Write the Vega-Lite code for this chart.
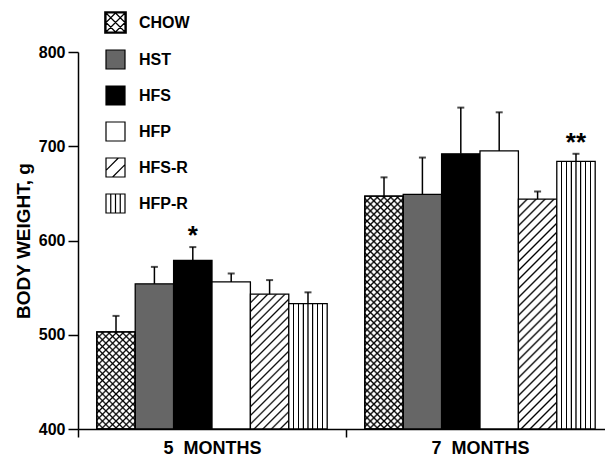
{
"$schema": "https://vega.github.io/schema/vega-lite/v6.json",
"width": 527, "height": 377,
"autosize": {"type": "none"},
"padding": {"left": 78, "top": 52, "right": 0, "bottom": 27},
"background": "white",
"data": {"values": [
{"period":"5 MONTHS","diet":"CHOW","weight":503,"upper":520},
{"period":"5 MONTHS","diet":"HST","weight":554,"upper":572},
{"period":"5 MONTHS","diet":"HFS","weight":579,"upper":593,"sig":"*"},
{"period":"5 MONTHS","diet":"HFP","weight":556,"upper":565},
{"period":"5 MONTHS","diet":"HFS-R","weight":543,"upper":558},
{"period":"5 MONTHS","diet":"HFP-R","weight":533,"upper":545},
{"period":"7 MONTHS","diet":"CHOW","weight":647,"upper":667},
{"period":"7 MONTHS","diet":"HST","weight":649,"upper":688},
{"period":"7 MONTHS","diet":"HFS","weight":692,"upper":741},
{"period":"7 MONTHS","diet":"HFP","weight":695,"upper":736},
{"period":"7 MONTHS","diet":"HFS-R","weight":644,"upper":652},
{"period":"7 MONTHS","diet":"HFP-R","weight":684,"upper":692,"sig":"**"}
]},
"encoding": {
 "x": {"field": "period", "type": "nominal",
   "scale": {"domain": ["5 MONTHS","7 MONTHS"], "range": [0, 536], "paddingInner": 0, "paddingOuter": 0},
   "axis": {"title": null, "labelAngle": 0, "tickBand": "extent", "tickSize": 8, "labelPadding": 2, "labelFontSize": 18,
            "labelExpr": "replace(datum.label, ' ', '\u00a0 ')"}},
 "xOffset": {"field": "diet", "type": "nominal",
   "scale": {"domain": ["CHOW","HST","HFS","HFP","HFS-R","HFP-R"], "paddingInner": 0, "paddingOuter": 0.49}},
 "y": {"field": "weight", "type": "quantitative",
   "scale": {"domain": [400, 800], "zero": false, "nice": false},
   "axis": {"title": "BODY WEIGHT, g", "values": [400,500,600,700,800], "tickSize": 10, "labelPadding": 3,
            "labelFontSize": 16, "titleFontSize": 19, "titlePadding": 5}}
},
"layer": [
 {"mark": {"type": "bar", "stroke": "#000", "strokeWidth": 1.3},
  "encoding": {
   "y2": {"datum": 400},
   "fill": {"condition": [
     {"test": "datum.diet==='HST'", "value": "#666666"},
     {"test": "datum.diet==='HFS'", "value": "#000"},
     {"test": "datum.diet==='HFP'", "value": "#fff"},
     {"test": "datum.diet==='HFP-R'", "value": {"gradient": "linear", "x1": 0, "y1": 0, "x2": 1, "y2": 0, "stops": [
       {"offset":0.104,"color":"#fff"},{"offset":0.116,"color":"#000"},{"offset":0.134,"color":"#000"},{"offset":0.146,"color":"#fff"},
       {"offset":0.229,"color":"#fff"},{"offset":0.241,"color":"#000"},{"offset":0.259,"color":"#000"},{"offset":0.271,"color":"#fff"},
       {"offset":0.354,"color":"#fff"},{"offset":0.366,"color":"#000"},{"offset":0.384,"color":"#000"},{"offset":0.396,"color":"#fff"},
       {"offset":0.479,"color":"#fff"},{"offset":0.491,"color":"#000"},{"offset":0.509,"color":"#000"},{"offset":0.521,"color":"#fff"},
       {"offset":0.604,"color":"#fff"},{"offset":0.616,"color":"#000"},{"offset":0.634,"color":"#000"},{"offset":0.646,"color":"#fff"},
       {"offset":0.729,"color":"#fff"},{"offset":0.741,"color":"#000"},{"offset":0.759,"color":"#000"},{"offset":0.771,"color":"#fff"},
       {"offset":0.854,"color":"#fff"},{"offset":0.866,"color":"#000"},{"offset":0.884,"color":"#000"},{"offset":0.896,"color":"#fff"}]}},
     {"test": "datum.diet==='HFS-R' && datum.period==='5 MONTHS'", "value": {"gradient": "linear", "x1": 0, "y1": 0, "x2": 0.3385, "y2": 1.1884, "stops": [
       {"offset":0.04,"color":"#fff"},{"offset":0.05,"color":"#000"},{"offset":0.06,"color":"#fff"},
       {"offset":0.09,"color":"#fff"},{"offset":0.1,"color":"#000"},{"offset":0.11,"color":"#fff"},
       {"offset":0.14,"color":"#fff"},{"offset":0.15,"color":"#000"},{"offset":0.16,"color":"#fff"},
       {"offset":0.19,"color":"#fff"},{"offset":0.2,"color":"#000"},{"offset":0.21,"color":"#fff"},
       {"offset":0.24,"color":"#fff"},{"offset":0.25,"color":"#000"},{"offset":0.26,"color":"#fff"},
       {"offset":0.29,"color":"#fff"},{"offset":0.3,"color":"#000"},{"offset":0.31,"color":"#fff"},
       {"offset":0.34,"color":"#fff"},{"offset":0.35,"color":"#000"},{"offset":0.36,"color":"#fff"},
       {"offset":0.39,"color":"#fff"},{"offset":0.4,"color":"#000"},{"offset":0.41,"color":"#fff"},
       {"offset":0.44,"color":"#fff"},{"offset":0.45,"color":"#000"},{"offset":0.46,"color":"#fff"},
       {"offset":0.49,"color":"#fff"},{"offset":0.5,"color":"#000"},{"offset":0.51,"color":"#fff"},
       {"offset":0.54,"color":"#fff"},{"offset":0.55,"color":"#000"},{"offset":0.56,"color":"#fff"},
       {"offset":0.59,"color":"#fff"},{"offset":0.6,"color":"#000"},{"offset":0.61,"color":"#fff"},
       {"offset":0.64,"color":"#fff"},{"offset":0.65,"color":"#000"},{"offset":0.66,"color":"#fff"},
       {"offset":0.69,"color":"#fff"},{"offset":0.7,"color":"#000"},{"offset":0.71,"color":"#fff"},
       {"offset":0.74,"color":"#fff"},{"offset":0.75,"color":"#000"},{"offset":0.76,"color":"#fff"},
       {"offset":0.79,"color":"#fff"},{"offset":0.8,"color":"#000"},{"offset":0.81,"color":"#fff"},
       {"offset":0.84,"color":"#fff"},{"offset":0.85,"color":"#000"},{"offset":0.86,"color":"#fff"},
       {"offset":0.89,"color":"#fff"},{"offset":0.9,"color":"#000"},{"offset":0.91,"color":"#fff"},
       {"offset":0.94,"color":"#fff"},{"offset":0.95,"color":"#000"},{"offset":0.96,"color":"#fff"}]}},
     {"test": "datum.diet==='HFS-R'", "value": {"gradient": "linear", "x1": 0, "y1": 0, "x2": 0.1896, "y2": 1.1353, "stops": [
       {"offset":0.0263,"color":"#fff"},{"offset":0.0333,"color":"#000"},{"offset":0.0403,"color":"#fff"},
       {"offset":0.0597,"color":"#fff"},{"offset":0.0667,"color":"#000"},{"offset":0.0737,"color":"#fff"},
       {"offset":0.093,"color":"#fff"},{"offset":0.1,"color":"#000"},{"offset":0.107,"color":"#fff"},
       {"offset":0.1263,"color":"#fff"},{"offset":0.1333,"color":"#000"},{"offset":0.1403,"color":"#fff"},
       {"offset":0.1597,"color":"#fff"},{"offset":0.1667,"color":"#000"},{"offset":0.1737,"color":"#fff"},
       {"offset":0.193,"color":"#fff"},{"offset":0.2,"color":"#000"},{"offset":0.207,"color":"#fff"},
       {"offset":0.2263,"color":"#fff"},{"offset":0.2333,"color":"#000"},{"offset":0.2403,"color":"#fff"},
       {"offset":0.2597,"color":"#fff"},{"offset":0.2667,"color":"#000"},{"offset":0.2737,"color":"#fff"},
       {"offset":0.293,"color":"#fff"},{"offset":0.3,"color":"#000"},{"offset":0.307,"color":"#fff"},
       {"offset":0.3263,"color":"#fff"},{"offset":0.3333,"color":"#000"},{"offset":0.3403,"color":"#fff"},
       {"offset":0.3597,"color":"#fff"},{"offset":0.3667,"color":"#000"},{"offset":0.3737,"color":"#fff"},
       {"offset":0.393,"color":"#fff"},{"offset":0.4,"color":"#000"},{"offset":0.407,"color":"#fff"},
       {"offset":0.4263,"color":"#fff"},{"offset":0.4333,"color":"#000"},{"offset":0.4403,"color":"#fff"},
       {"offset":0.4597,"color":"#fff"},{"offset":0.4667,"color":"#000"},{"offset":0.4737,"color":"#fff"},
       {"offset":0.493,"color":"#fff"},{"offset":0.5,"color":"#000"},{"offset":0.507,"color":"#fff"},
       {"offset":0.5263,"color":"#fff"},{"offset":0.5333,"color":"#000"},{"offset":0.5403,"color":"#fff"},
       {"offset":0.5597,"color":"#fff"},{"offset":0.5667,"color":"#000"},{"offset":0.5737,"color":"#fff"},
       {"offset":0.593,"color":"#fff"},{"offset":0.6,"color":"#000"},{"offset":0.607,"color":"#fff"},
       {"offset":0.6263,"color":"#fff"},{"offset":0.6333,"color":"#000"},{"offset":0.6403,"color":"#fff"},
       {"offset":0.6597,"color":"#fff"},{"offset":0.6667,"color":"#000"},{"offset":0.6737,"color":"#fff"},
       {"offset":0.693,"color":"#fff"},{"offset":0.7,"color":"#000"},{"offset":0.707,"color":"#fff"},
       {"offset":0.7263,"color":"#fff"},{"offset":0.7333,"color":"#000"},{"offset":0.7403,"color":"#fff"},
       {"offset":0.7597,"color":"#fff"},{"offset":0.7667,"color":"#000"},{"offset":0.7737,"color":"#fff"},
       {"offset":0.793,"color":"#fff"},{"offset":0.8,"color":"#000"},{"offset":0.807,"color":"#fff"},
       {"offset":0.8263,"color":"#fff"},{"offset":0.8333,"color":"#000"},{"offset":0.8403,"color":"#fff"},
       {"offset":0.8597,"color":"#fff"},{"offset":0.8667,"color":"#000"},{"offset":0.8737,"color":"#fff"},
       {"offset":0.893,"color":"#fff"},{"offset":0.9,"color":"#000"},{"offset":0.907,"color":"#fff"},
       {"offset":0.9263,"color":"#fff"},{"offset":0.9333,"color":"#000"},{"offset":0.9403,"color":"#fff"},
       {"offset":0.9597,"color":"#fff"},{"offset":0.9667,"color":"#000"},{"offset":0.9737,"color":"#fff"}]}},
     {"test": "datum.period==='5 MONTHS'", "value": {"gradient": "linear", "x1": 0, "y1": 0, "x2": 0.4772, "y2": 1.2068, "stops": [
       {"offset":0.037,"color":"#fff"},{"offset":0.05,"color":"#000"},{"offset":0.063,"color":"#fff"},
       {"offset":0.087,"color":"#fff"},{"offset":0.1,"color":"#000"},{"offset":0.113,"color":"#fff"},
       {"offset":0.137,"color":"#fff"},{"offset":0.15,"color":"#000"},{"offset":0.163,"color":"#fff"},
       {"offset":0.187,"color":"#fff"},{"offset":0.2,"color":"#000"},{"offset":0.213,"color":"#fff"},
       {"offset":0.237,"color":"#fff"},{"offset":0.25,"color":"#000"},{"offset":0.263,"color":"#fff"},
       {"offset":0.287,"color":"#fff"},{"offset":0.3,"color":"#000"},{"offset":0.313,"color":"#fff"},
       {"offset":0.337,"color":"#fff"},{"offset":0.35,"color":"#000"},{"offset":0.363,"color":"#fff"},
       {"offset":0.387,"color":"#fff"},{"offset":0.4,"color":"#000"},{"offset":0.413,"color":"#fff"},
       {"offset":0.437,"color":"#fff"},{"offset":0.45,"color":"#000"},{"offset":0.463,"color":"#fff"},
       {"offset":0.487,"color":"#fff"},{"offset":0.5,"color":"#000"},{"offset":0.513,"color":"#fff"},
       {"offset":0.537,"color":"#fff"},{"offset":0.55,"color":"#000"},{"offset":0.563,"color":"#fff"},
       {"offset":0.587,"color":"#fff"},{"offset":0.6,"color":"#000"},{"offset":0.613,"color":"#fff"},
       {"offset":0.637,"color":"#fff"},{"offset":0.65,"color":"#000"},{"offset":0.663,"color":"#fff"},
       {"offset":0.687,"color":"#fff"},{"offset":0.7,"color":"#000"},{"offset":0.713,"color":"#fff"},
       {"offset":0.737,"color":"#fff"},{"offset":0.75,"color":"#000"},{"offset":0.763,"color":"#fff"},
       {"offset":0.787,"color":"#fff"},{"offset":0.8,"color":"#000"},{"offset":0.813,"color":"#fff"},
       {"offset":0.837,"color":"#fff"},{"offset":0.85,"color":"#000"},{"offset":0.863,"color":"#fff"},
       {"offset":0.887,"color":"#fff"},{"offset":0.9,"color":"#000"},{"offset":0.913,"color":"#fff"},
       {"offset":0.937,"color":"#fff"},{"offset":0.95,"color":"#000"},{"offset":0.963,"color":"#fff"}]}}
    ],
    "value": {"gradient": "linear", "x1": 0, "y1": 0, "x2": 0.1871, "y2": 1.1341, "stops": [
       {"offset":0.018,"color":"#fff"},{"offset":0.025,"color":"#000"},{"offset":0.032,"color":"#fff"},
       {"offset":0.043,"color":"#fff"},{"offset":0.05,"color":"#000"},{"offset":0.057,"color":"#fff"},
       {"offset":0.068,"color":"#fff"},{"offset":0.075,"color":"#000"},{"offset":0.082,"color":"#fff"},
       {"offset":0.093,"color":"#fff"},{"offset":0.1,"color":"#000"},{"offset":0.107,"color":"#fff"},
       {"offset":0.118,"color":"#fff"},{"offset":0.125,"color":"#000"},{"offset":0.132,"color":"#fff"},
       {"offset":0.143,"color":"#fff"},{"offset":0.15,"color":"#000"},{"offset":0.157,"color":"#fff"},
       {"offset":0.168,"color":"#fff"},{"offset":0.175,"color":"#000"},{"offset":0.182,"color":"#fff"},
       {"offset":0.193,"color":"#fff"},{"offset":0.2,"color":"#000"},{"offset":0.207,"color":"#fff"},
       {"offset":0.218,"color":"#fff"},{"offset":0.225,"color":"#000"},{"offset":0.232,"color":"#fff"},
       {"offset":0.243,"color":"#fff"},{"offset":0.25,"color":"#000"},{"offset":0.257,"color":"#fff"},
       {"offset":0.268,"color":"#fff"},{"offset":0.275,"color":"#000"},{"offset":0.282,"color":"#fff"},
       {"offset":0.293,"color":"#fff"},{"offset":0.3,"color":"#000"},{"offset":0.307,"color":"#fff"},
       {"offset":0.318,"color":"#fff"},{"offset":0.325,"color":"#000"},{"offset":0.332,"color":"#fff"},
       {"offset":0.343,"color":"#fff"},{"offset":0.35,"color":"#000"},{"offset":0.357,"color":"#fff"},
       {"offset":0.368,"color":"#fff"},{"offset":0.375,"color":"#000"},{"offset":0.382,"color":"#fff"},
       {"offset":0.393,"color":"#fff"},{"offset":0.4,"color":"#000"},{"offset":0.407,"color":"#fff"},
       {"offset":0.418,"color":"#fff"},{"offset":0.425,"color":"#000"},{"offset":0.432,"color":"#fff"},
       {"offset":0.443,"color":"#fff"},{"offset":0.45,"color":"#000"},{"offset":0.457,"color":"#fff"},
       {"offset":0.468,"color":"#fff"},{"offset":0.475,"color":"#000"},{"offset":0.482,"color":"#fff"},
       {"offset":0.493,"color":"#fff"},{"offset":0.5,"color":"#000"},{"offset":0.507,"color":"#fff"},
       {"offset":0.518,"color":"#fff"},{"offset":0.525,"color":"#000"},{"offset":0.532,"color":"#fff"},
       {"offset":0.543,"color":"#fff"},{"offset":0.55,"color":"#000"},{"offset":0.557,"color":"#fff"},
       {"offset":0.568,"color":"#fff"},{"offset":0.575,"color":"#000"},{"offset":0.582,"color":"#fff"},
       {"offset":0.593,"color":"#fff"},{"offset":0.6,"color":"#000"},{"offset":0.607,"color":"#fff"},
       {"offset":0.618,"color":"#fff"},{"offset":0.625,"color":"#000"},{"offset":0.632,"color":"#fff"},
       {"offset":0.643,"color":"#fff"},{"offset":0.65,"color":"#000"},{"offset":0.657,"color":"#fff"},
       {"offset":0.668,"color":"#fff"},{"offset":0.675,"color":"#000"},{"offset":0.682,"color":"#fff"},
       {"offset":0.693,"color":"#fff"},{"offset":0.7,"color":"#000"},{"offset":0.707,"color":"#fff"},
       {"offset":0.718,"color":"#fff"},{"offset":0.725,"color":"#000"},{"offset":0.732,"color":"#fff"},
       {"offset":0.743,"color":"#fff"},{"offset":0.75,"color":"#000"},{"offset":0.757,"color":"#fff"},
       {"offset":0.768,"color":"#fff"},{"offset":0.775,"color":"#000"},{"offset":0.782,"color":"#fff"},
       {"offset":0.793,"color":"#fff"},{"offset":0.8,"color":"#000"},{"offset":0.807,"color":"#fff"},
       {"offset":0.818,"color":"#fff"},{"offset":0.825,"color":"#000"},{"offset":0.832,"color":"#fff"},
       {"offset":0.843,"color":"#fff"},{"offset":0.85,"color":"#000"},{"offset":0.857,"color":"#fff"},
       {"offset":0.868,"color":"#fff"},{"offset":0.875,"color":"#000"},{"offset":0.882,"color":"#fff"},
       {"offset":0.893,"color":"#fff"},{"offset":0.9,"color":"#000"},{"offset":0.907,"color":"#fff"},
       {"offset":0.918,"color":"#fff"},{"offset":0.925,"color":"#000"},{"offset":0.932,"color":"#fff"},
       {"offset":0.943,"color":"#fff"},{"offset":0.95,"color":"#000"},{"offset":0.957,"color":"#fff"},
       {"offset":0.968,"color":"#fff"},{"offset":0.975,"color":"#000"},{"offset":0.982,"color":"#fff"}]}
   }
  }
 },
 {"transform": [{"filter": "datum.diet==='CHOW'"}],
  "mark": {"type": "bar", "stroke": "#000", "strokeWidth": 1.3},
  "encoding": {
   "y2": {"datum": 400},
   "fill": {"condition": {"test": "datum.period==='5 MONTHS'", "value": {"gradient": "linear", "x1": 0, "y1": 1, "x2": 0.4772, "y2": -0.2068, "stops": [
       {"offset":0.037,"color":"#0000"},{"offset":0.05,"color":"#000"},{"offset":0.063,"color":"#0000"},
       {"offset":0.087,"color":"#0000"},{"offset":0.1,"color":"#000"},{"offset":0.113,"color":"#0000"},
       {"offset":0.137,"color":"#0000"},{"offset":0.15,"color":"#000"},{"offset":0.163,"color":"#0000"},
       {"offset":0.187,"color":"#0000"},{"offset":0.2,"color":"#000"},{"offset":0.213,"color":"#0000"},
       {"offset":0.237,"color":"#0000"},{"offset":0.25,"color":"#000"},{"offset":0.263,"color":"#0000"},
       {"offset":0.287,"color":"#0000"},{"offset":0.3,"color":"#000"},{"offset":0.313,"color":"#0000"},
       {"offset":0.337,"color":"#0000"},{"offset":0.35,"color":"#000"},{"offset":0.363,"color":"#0000"},
       {"offset":0.387,"color":"#0000"},{"offset":0.4,"color":"#000"},{"offset":0.413,"color":"#0000"},
       {"offset":0.437,"color":"#0000"},{"offset":0.45,"color":"#000"},{"offset":0.463,"color":"#0000"},
       {"offset":0.487,"color":"#0000"},{"offset":0.5,"color":"#000"},{"offset":0.513,"color":"#0000"},
       {"offset":0.537,"color":"#0000"},{"offset":0.55,"color":"#000"},{"offset":0.563,"color":"#0000"},
       {"offset":0.587,"color":"#0000"},{"offset":0.6,"color":"#000"},{"offset":0.613,"color":"#0000"},
       {"offset":0.637,"color":"#0000"},{"offset":0.65,"color":"#000"},{"offset":0.663,"color":"#0000"},
       {"offset":0.687,"color":"#0000"},{"offset":0.7,"color":"#000"},{"offset":0.713,"color":"#0000"},
       {"offset":0.737,"color":"#0000"},{"offset":0.75,"color":"#000"},{"offset":0.763,"color":"#0000"},
       {"offset":0.787,"color":"#0000"},{"offset":0.8,"color":"#000"},{"offset":0.813,"color":"#0000"},
       {"offset":0.837,"color":"#0000"},{"offset":0.85,"color":"#000"},{"offset":0.863,"color":"#0000"},
       {"offset":0.887,"color":"#0000"},{"offset":0.9,"color":"#000"},{"offset":0.913,"color":"#0000"},
       {"offset":0.937,"color":"#0000"},{"offset":0.95,"color":"#000"},{"offset":0.963,"color":"#0000"}]}},
    "value": {"gradient": "linear", "x1": 0, "y1": 1, "x2": 0.1871, "y2": -0.1341, "stops": [
       {"offset":0.018,"color":"#0000"},{"offset":0.025,"color":"#000"},{"offset":0.032,"color":"#0000"},
       {"offset":0.043,"color":"#0000"},{"offset":0.05,"color":"#000"},{"offset":0.057,"color":"#0000"},
       {"offset":0.068,"color":"#0000"},{"offset":0.075,"color":"#000"},{"offset":0.082,"color":"#0000"},
       {"offset":0.093,"color":"#0000"},{"offset":0.1,"color":"#000"},{"offset":0.107,"color":"#0000"},
       {"offset":0.118,"color":"#0000"},{"offset":0.125,"color":"#000"},{"offset":0.132,"color":"#0000"},
       {"offset":0.143,"color":"#0000"},{"offset":0.15,"color":"#000"},{"offset":0.157,"color":"#0000"},
       {"offset":0.168,"color":"#0000"},{"offset":0.175,"color":"#000"},{"offset":0.182,"color":"#0000"},
       {"offset":0.193,"color":"#0000"},{"offset":0.2,"color":"#000"},{"offset":0.207,"color":"#0000"},
       {"offset":0.218,"color":"#0000"},{"offset":0.225,"color":"#000"},{"offset":0.232,"color":"#0000"},
       {"offset":0.243,"color":"#0000"},{"offset":0.25,"color":"#000"},{"offset":0.257,"color":"#0000"},
       {"offset":0.268,"color":"#0000"},{"offset":0.275,"color":"#000"},{"offset":0.282,"color":"#0000"},
       {"offset":0.293,"color":"#0000"},{"offset":0.3,"color":"#000"},{"offset":0.307,"color":"#0000"},
       {"offset":0.318,"color":"#0000"},{"offset":0.325,"color":"#000"},{"offset":0.332,"color":"#0000"},
       {"offset":0.343,"color":"#0000"},{"offset":0.35,"color":"#000"},{"offset":0.357,"color":"#0000"},
       {"offset":0.368,"color":"#0000"},{"offset":0.375,"color":"#000"},{"offset":0.382,"color":"#0000"},
       {"offset":0.393,"color":"#0000"},{"offset":0.4,"color":"#000"},{"offset":0.407,"color":"#0000"},
       {"offset":0.418,"color":"#0000"},{"offset":0.425,"color":"#000"},{"offset":0.432,"color":"#0000"},
       {"offset":0.443,"color":"#0000"},{"offset":0.45,"color":"#000"},{"offset":0.457,"color":"#0000"},
       {"offset":0.468,"color":"#0000"},{"offset":0.475,"color":"#000"},{"offset":0.482,"color":"#0000"},
       {"offset":0.493,"color":"#0000"},{"offset":0.5,"color":"#000"},{"offset":0.507,"color":"#0000"},
       {"offset":0.518,"color":"#0000"},{"offset":0.525,"color":"#000"},{"offset":0.532,"color":"#0000"},
       {"offset":0.543,"color":"#0000"},{"offset":0.55,"color":"#000"},{"offset":0.557,"color":"#0000"},
       {"offset":0.568,"color":"#0000"},{"offset":0.575,"color":"#000"},{"offset":0.582,"color":"#0000"},
       {"offset":0.593,"color":"#0000"},{"offset":0.6,"color":"#000"},{"offset":0.607,"color":"#0000"},
       {"offset":0.618,"color":"#0000"},{"offset":0.625,"color":"#000"},{"offset":0.632,"color":"#0000"},
       {"offset":0.643,"color":"#0000"},{"offset":0.65,"color":"#000"},{"offset":0.657,"color":"#0000"},
       {"offset":0.668,"color":"#0000"},{"offset":0.675,"color":"#000"},{"offset":0.682,"color":"#0000"},
       {"offset":0.693,"color":"#0000"},{"offset":0.7,"color":"#000"},{"offset":0.707,"color":"#0000"},
       {"offset":0.718,"color":"#0000"},{"offset":0.725,"color":"#000"},{"offset":0.732,"color":"#0000"},
       {"offset":0.743,"color":"#0000"},{"offset":0.75,"color":"#000"},{"offset":0.757,"color":"#0000"},
       {"offset":0.768,"color":"#0000"},{"offset":0.775,"color":"#000"},{"offset":0.782,"color":"#0000"},
       {"offset":0.793,"color":"#0000"},{"offset":0.8,"color":"#000"},{"offset":0.807,"color":"#0000"},
       {"offset":0.818,"color":"#0000"},{"offset":0.825,"color":"#000"},{"offset":0.832,"color":"#0000"},
       {"offset":0.843,"color":"#0000"},{"offset":0.85,"color":"#000"},{"offset":0.857,"color":"#0000"},
       {"offset":0.868,"color":"#0000"},{"offset":0.875,"color":"#000"},{"offset":0.882,"color":"#0000"},
       {"offset":0.893,"color":"#0000"},{"offset":0.9,"color":"#000"},{"offset":0.907,"color":"#0000"},
       {"offset":0.918,"color":"#0000"},{"offset":0.925,"color":"#000"},{"offset":0.932,"color":"#0000"},
       {"offset":0.943,"color":"#0000"},{"offset":0.95,"color":"#000"},{"offset":0.957,"color":"#0000"},
       {"offset":0.968,"color":"#0000"},{"offset":0.975,"color":"#000"},{"offset":0.982,"color":"#0000"}]}
   }
  }
 },
 {"mark": {"type": "rule", "color": "#000", "strokeWidth": 1.5},
  "encoding": {"y": {"field": "upper", "type": "quantitative"}, "y2": {"field": "weight"}}},
 {"mark": {"type": "tick", "color": "#000", "size": 7, "thickness": 2},
  "encoding": {"y": {"field": "upper", "type": "quantitative"}}},
 {"transform": [{"filter": "datum.sig"}],
  "mark": {"type": "text", "fontSize": 26, "fontWeight": "bold", "baseline": "alphabetic", "dy": -3, "color": "#000"},
  "encoding": {"y": {"field": "upper", "type": "quantitative"}, "text": {"field": "sig"}}},
 {"mark": {"type": "point", "opacity": 0, "filled": true},
  "encoding": {
   "color": {"field": "diet", "type": "nominal",
     "scale": {"domain": ["CHOW","HST","HFS","HFP","HFS-R","HFP-R"], "range": ["#fff","#666666","#000","#fff","#fff","#fff"]},
     "legend": {"orient": "none", "legendX": 27, "legendY": -40, "title": null, "direction": "vertical",
       "symbolType": "square", "symbolSize": 361, "labelFontSize": 16, "labelOffset": 13, "rowPadding": 11,
       "encode": {"symbols": {"update": {
         "opacity": {"value": 1}, "fillOpacity": {"value": 1}, "strokeOpacity": {"value": 1},
         "stroke": {"value": "#000"}, "strokeWidth": {"value": 1.2},
         "shape": [
           {"test": "datum.value==='CHOW'", "value": "M-1,-1H1V1H-1Z M-1.07,-1.07H1.07V1.07H-1.07Z M-1.13,-1.13H1.13V1.13H-1.13Z M-1,0L0,-1 M-1,1L1,-1 M0,1L1,0 M-1,0L0,1 M-1,-1L1,1 M0,-1L1,0"},
           {"test": "datum.value==='HFS-R'", "value": "M-1,-1H1V1H-1Z M-1,0.3L0.3,-1 M-0.3,1L1,-0.3"},
           {"test": "datum.value==='HFP-R'", "value": "M-1,-1H1V1H-1Z M-0.5,-1V1 M0,-1V1 M0.5,-1V1"},
           {"value": "square"}
         ]}}}}}
  }}
],
"config": {
 "view": {"stroke": null},
 "font": "Liberation Sans",
 "axis": {"domainColor": "#000", "domainWidth": 1.5, "tickColor": "#000", "tickWidth": 1.5, "grid": false,
          "labelColor": "#000", "labelFontWeight": "bold", "titleColor": "#000", "titleFontWeight": "bold",
          "labelFont": "Liberation Sans", "titleFont": "Liberation Sans"},
 "legend": {"labelColor": "#000", "labelFontWeight": "bold", "labelFont": "Liberation Sans"}
}
}
